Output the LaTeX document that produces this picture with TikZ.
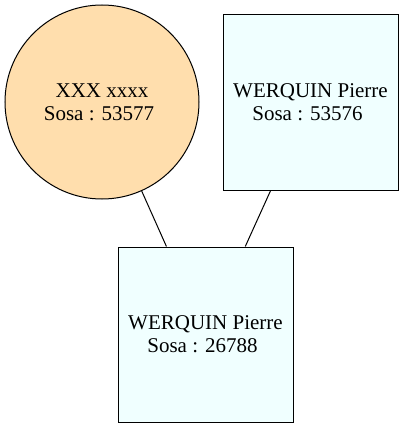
\documentclass[tikz,border=0pt]{standalone}
\usepackage{fontspec}
\setmainfont{Liberation Serif}
\definecolor{femfill}{RGB}{255,222,173}
\definecolor{malefill}{RGB}{240,255,255}
\begin{document}
\begin{tikzpicture}[x=1pt,y=-1pt,
  person/.style={draw=black,line width=1pt,inner sep=0pt,align=center,
    font=\fontsize{21}{23}\selectfont},
  fem/.style={person,circle,fill=femfill,minimum size=194pt},
  male/.style={person,rectangle,fill=malefill,minimum width=175pt,minimum height=175pt},
  link/.style={draw=black,line width=1pt}]
\useasboundingbox (0,0) rectangle (403,428);
\node[fem]  (m) at (102,102)     {XXX xxxx\\Sosa : 53577\hspace*{6pt}};
\node[male] (f) at (310.5,102.5) {WERQUIN Pierre\\Sosa : 53576\hspace*{6pt}};
\node[male] (c) at (205.5,334.5) {WERQUIN Pierre\\Sosa : 26788\hspace*{6pt}};
\draw[link] (m) -- (c);
\draw[link] (f) -- (c);
\end{tikzpicture}
\end{document}
